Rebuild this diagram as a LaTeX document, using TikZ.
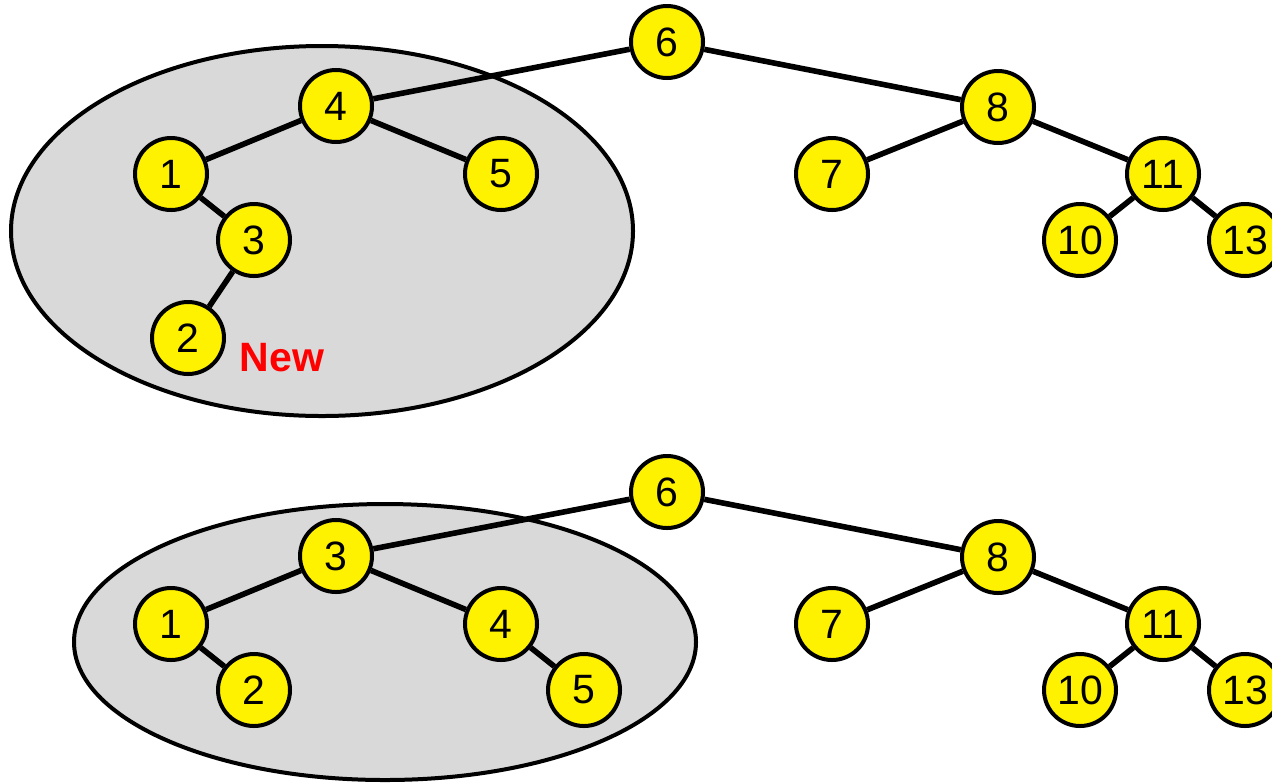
\documentclass[tikz,border=0pt]{standalone}
\usepackage{fontspec}
\setmainfont{Liberation Sans}
\begin{document}
\begin{tikzpicture}[x=0.5pt,y=-0.5pt,
  tn/.style={circle,draw=black,fill=yellow,line width=2pt,minimum size=36pt,inner sep=0pt,font=\fontsize{20.5}{20.5}\selectfont},
  edge/.style={line width=2.8pt},
  blob/.style={draw=black,fill=black!15,line width=2pt}]
\useasboundingbox (0,0) rectangle (1272,783);
% top
\draw[blob] (322,231) ellipse [x radius=311, y radius=185];
\node[tn] (a6) at (667,42) {6};
\node[tn] (a4) at (336,106) {4};
\node[tn] (a8) at (998,107) {8};
\node[tn] (a1) at (171,174) {1};
\node[tn] (a5) at (501,174) {5};
\node[tn] (a7) at (832,174) {7};
\node[tn] (a11) at (1163,174) {11};
\node[tn] (a3) at (254,240) {3};
\node[tn] (a10) at (1080,240) {10};
\node[tn] (a13) at (1245,240) {13};
\node[tn] (a2) at (188,338) {2};
\node[text=red,font=\bfseries\fontsize{20.5}{20.5}\selectfont] (new) at (282,358) {New};
\draw[edge] (a6)--(a4) (a6)--(a8) (a4)--(a1) (a4)--(a5) (a1)--(a3) (a3)--(a2)
  (a8)--(a7) (a8)--(a11) (a11)--(a10) (a11)--(a13);
% bottom
\draw[blob] (385,642) ellipse [x radius=311, y radius=138];
\node[tn] (b6) at (667,492) {6};
\node[tn] (b3) at (336,556) {3};
\node[tn] (b8) at (998,557) {8};
\node[tn] (b1) at (171,624) {1};
\node[tn] (b4) at (501,624) {4};
\node[tn] (b7) at (832,624) {7};
\node[tn] (b11) at (1163,624) {11};
\node[tn] (b2) at (254,690) {2};
\node[tn] (b5) at (584,690) {5};
\node[tn] (b10) at (1080,690) {10};
\node[tn] (b13) at (1245,690) {13};
\draw[edge] (b6)--(b3) (b6)--(b8) (b3)--(b1) (b3)--(b4) (b1)--(b2) (b4)--(b5)
  (b8)--(b7) (b8)--(b11) (b11)--(b10) (b11)--(b13);
\end{tikzpicture}
\end{document}
